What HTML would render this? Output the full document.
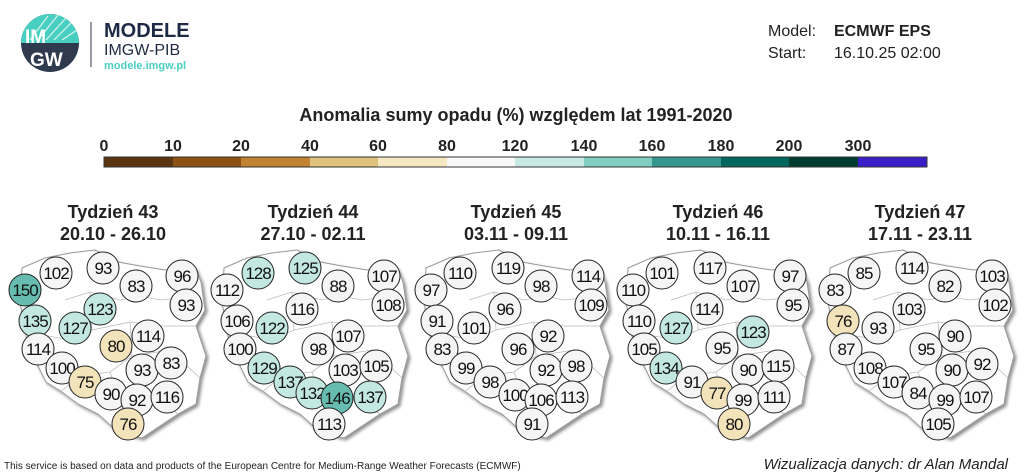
<!DOCTYPE html>
<html><head><meta charset="utf-8"><style>
body{margin:0;background:#fff;}
svg{display:block;font-family:"Liberation Sans",Arial,sans-serif;}
.c{stroke:#222;stroke-width:1}
circle.c{r:16px}
.w{fill:#f5f5f5}.t{fill:#c3e8e1}.d{fill:#66bcaf}.b{fill:#f3e3bb}
.n{font-size:17px;text-anchor:middle;fill:#111;letter-spacing:-1px}
.h{font-size:18px;font-weight:bold;text-anchor:middle;fill:#222}
</style></head><body>
<svg width="1024" height="475" viewBox="0 0 1024 475">
<defs>
<filter id="sh" x="-10%" y="-10%" width="130%" height="130%"><feDropShadow dx="2" dy="2" stdDeviation="1.5" flood-color="#000" flood-opacity="0.45"/></filter>
<path id="pl" d="M22,268 L45,258 L70,253 L95,250 L118,262 L140,266 L165,270 L195,268 L201,282 L205,310 L196,326 L206,356 L200,378 L196,404 L178,414 L160,426 L142,438 L118,432 L98,414 L78,404 L62,392 L46,382 L36,362 L26,336 L20,302 Z" fill="#fff" stroke="#999" stroke-width="1" filter="url(#sh)"/>
<g id="st">
<path d="M65,300 L90,292 L120,300 L140,296 L160,300 L198,296 M90,292 L92,330 L70,340 L48,336 M92,330 L130,322 L160,326 L196,326 M130,322 L132,356 L110,372 L80,376 L60,392 M132,356 L170,350 L200,378 M110,372 L120,400 L142,412 M120,400 L160,400 L178,414" fill="none" stroke="#bbb" stroke-width="0.8"/>
</g>
</defs>

<circle cx="50" cy="43" r="29" fill="#2f3a4f"/>
<path d="M21,43 A29,29 0 0 1 79,43 Z" fill="#49cfc1"/>
<g stroke="#fff" stroke-width="1.2" opacity="0.8"><line x1="30" y1="40" x2="48" y2="16"/><line x1="38" y1="40" x2="58" y2="15"/><line x1="46" y1="40" x2="66" y2="18"/><line x1="54" y1="40" x2="72" y2="22"/><line x1="62" y1="40" x2="77" y2="30"/></g>
<text x="25" y="43" font-size="19" font-weight="bold" fill="#fff">IM</text>
<text x="30" y="66" font-size="19" font-weight="bold" fill="#fff">GW</text>
<line x1="91" y1="22" x2="91" y2="67" stroke="#2f3a4f" stroke-width="1"/>
<text x="104" y="37" font-size="20" font-weight="bold" fill="#1e2a45">MODELE</text>
<text x="104" y="55" font-size="16" fill="#1e2a45">IMGW-PIB</text>
<text x="104" y="69" font-size="11" font-weight="bold" fill="#49cfc1">modele.imgw.pl</text>

<text x="768" y="36" font-size="16" fill="#222">Model:</text>
<text x="834" y="36" font-size="16" font-weight="bold" fill="#222">ECMWF EPS</text>
<text x="768" y="58" font-size="16" fill="#222">Start:</text>
<text x="834" y="58" font-size="16" fill="#222">16.10.25 02:00</text>

<text x="516" y="121" class="h">Anomalia sumy opadu (%) względem lat 1991-2020</text>
<g font-size="16" font-weight="bold" text-anchor="middle" fill="#222">
<text x="104" y="151">0</text><text x="173" y="151">10</text><text x="241" y="151">20</text><text x="310" y="151">40</text><text x="378" y="151">60</text><text x="447" y="151">80</text><text x="515" y="151">120</text><text x="584" y="151">140</text><text x="652" y="151">160</text><text x="721" y="151">180</text><text x="789" y="151">200</text><text x="858" y="151">300</text>
</g>
<g stroke="none">
<rect x="104" y="157" width="69" height="10" fill="#5a3510"/><rect x="173" y="157" width="68" height="10" fill="#8c5214"/><rect x="241" y="157" width="69" height="10" fill="#c1832f"/><rect x="310" y="157" width="68" height="10" fill="#dfc27d"/><rect x="378" y="157" width="69" height="10" fill="#f6e8c3"/><rect x="447" y="157" width="68" height="10" fill="#f8f8f8"/><rect x="515" y="157" width="69" height="10" fill="#c7eae5"/><rect x="584" y="157" width="68" height="10" fill="#80cdc1"/><rect x="652" y="157" width="69" height="10" fill="#35978f"/><rect x="721" y="157" width="68" height="10" fill="#01665e"/><rect x="789" y="157" width="69" height="10" fill="#003c30"/><rect x="858" y="157" width="69" height="10" fill="#3a1fc8"/>
</g>
<rect x="104" y="157" width="823" height="10" fill="none" stroke="#333" stroke-width="1"/>

<g class="h">
<text x="113" y="218">Tydzień 43</text><text x="113" y="240">20.10 - 26.10</text>
<text x="313" y="218">Tydzień 44</text><text x="313" y="240">27.10 - 02.11</text>
<text x="516" y="218">Tydzień 45</text><text x="516" y="240">03.11 - 09.11</text>
<text x="718" y="218">Tydzień 46</text><text x="718" y="240">10.11 - 16.11</text>
<text x="920" y="218">Tydzień 47</text><text x="920" y="240">17.11 - 23.11</text>
</g>

<g transform="translate(0,0)"><use href="#pl"/><use href="#st"/>
<circle class="c w" cx="56" cy="273" r="16"/><text class="n" x="56" y="279">102</text>
<circle class="c w" cx="103" cy="268" r="16"/><text class="n" x="103" y="274">93</text>
<circle class="c w" cx="136" cy="286" r="16"/><text class="n" x="136" y="292">83</text>
<circle class="c w" cx="182" cy="276" r="16"/><text class="n" x="182" y="282">96</text>
<circle class="c d" cx="25" cy="290" r="16"/><text class="n" x="25" y="296">150</text>
<circle class="c w" cx="186" cy="305" r="16"/><text class="n" x="186" y="311">93</text>
<circle class="c t" cx="100" cy="309" r="16"/><text class="n" x="100" y="315">123</text>
<circle class="c t" cx="35" cy="321" r="16"/><text class="n" x="35" y="327">135</text>
<circle class="c t" cx="75" cy="328" r="16"/><text class="n" x="75" y="334">127</text>
<circle class="c w" cx="148" cy="336" r="16"/><text class="n" x="148" y="342">114</text>
<circle class="c w" cx="38" cy="349" r="16"/><text class="n" x="38" y="355">114</text>
<circle class="c b" cx="116" cy="346" r="16"/><text class="n" x="116" y="352">80</text>
<circle class="c w" cx="62" cy="368" r="16"/><text class="n" x="62" y="374">100</text>
<circle class="c w" cx="142" cy="370" r="16"/><text class="n" x="142" y="376">93</text>
<circle class="c w" cx="171" cy="363" r="16"/><text class="n" x="171" y="369">83</text>
<circle class="c b" cx="85" cy="382" r="16"/><text class="n" x="85" y="388">75</text>
<circle class="c w" cx="111" cy="394" r="16"/><text class="n" x="111" y="400">90</text>
<circle class="c w" cx="137" cy="400" r="16"/><text class="n" x="137" y="406">92</text>
<circle class="c w" cx="167" cy="397" r="16"/><text class="n" x="167" y="403">116</text>
<circle class="c b" cx="128" cy="424" r="16"/><text class="n" x="128" y="430">76</text>
</g>

<g transform="translate(202,0)"><use href="#pl"/><use href="#st"/>
<circle class="c t" cx="56" cy="273" r="16"/><text class="n" x="56" y="279">128</text>
<circle class="c t" cx="103" cy="268" r="16"/><text class="n" x="103" y="274">125</text>
<circle class="c w" cx="136" cy="286" r="16"/><text class="n" x="136" y="292">88</text>
<circle class="c w" cx="182" cy="276" r="16"/><text class="n" x="182" y="282">107</text>
<circle class="c w" cx="25" cy="290" r="16"/><text class="n" x="25" y="296">112</text>
<circle class="c w" cx="186" cy="305" r="16"/><text class="n" x="186" y="311">108</text>
<circle class="c w" cx="100" cy="309" r="16"/><text class="n" x="100" y="315">116</text>
<circle class="c w" cx="35" cy="321" r="16"/><text class="n" x="35" y="327">106</text>
<circle class="c t" cx="70" cy="328" r="16"/><text class="n" x="70" y="334">122</text>
<circle class="c w" cx="146" cy="336" r="16"/><text class="n" x="146" y="342">107</text>
<circle class="c w" cx="38" cy="349" r="16"/><text class="n" x="38" y="355">100</text>
<circle class="c w" cx="116" cy="349" r="16"/><text class="n" x="116" y="355">98</text>
<circle class="c t" cx="62" cy="368" r="16"/><text class="n" x="62" y="374">129</text>
<circle class="c w" cx="143" cy="370" r="16"/><text class="n" x="143" y="376">103</text>
<circle class="c w" cx="174" cy="366" r="16"/><text class="n" x="174" y="372">105</text>
<circle class="c t" cx="88" cy="382" r="16"/><text class="n" x="88" y="388">137</text>
<circle class="c t" cx="110" cy="393" r="16"/><text class="n" x="110" y="399">132</text>
<circle class="c d" cx="135" cy="398" r="16"/><text class="n" x="135" y="404">146</text>
<circle class="c t" cx="168" cy="397" r="16"/><text class="n" x="168" y="403">137</text>
<circle class="c w" cx="127" cy="424" r="16"/><text class="n" x="127" y="430">113</text>
</g>

<g transform="translate(404,0)"><use href="#pl"/><use href="#st"/>
<circle class="c w" cx="56" cy="273" r="16"/><text class="n" x="56" y="279">110</text>
<circle class="c w" cx="104" cy="268" r="16"/><text class="n" x="104" y="274">119</text>
<circle class="c w" cx="137" cy="286" r="16"/><text class="n" x="137" y="292">98</text>
<circle class="c w" cx="184" cy="276" r="16"/><text class="n" x="184" y="282">114</text>
<circle class="c w" cx="27" cy="290" r="16"/><text class="n" x="27" y="296">97</text>
<circle class="c w" cx="187" cy="305" r="16"/><text class="n" x="187" y="311">109</text>
<circle class="c w" cx="101" cy="309" r="16"/><text class="n" x="101" y="315">96</text>
<circle class="c w" cx="33" cy="321" r="16"/><text class="n" x="33" y="327">91</text>
<circle class="c w" cx="70" cy="328" r="16"/><text class="n" x="70" y="334">101</text>
<circle class="c w" cx="144" cy="336" r="16"/><text class="n" x="144" y="342">92</text>
<circle class="c w" cx="38" cy="349" r="16"/><text class="n" x="38" y="355">83</text>
<circle class="c w" cx="114" cy="349" r="16"/><text class="n" x="114" y="355">96</text>
<circle class="c w" cx="62" cy="368" r="16"/><text class="n" x="62" y="374">99</text>
<circle class="c w" cx="142" cy="370" r="16"/><text class="n" x="142" y="376">92</text>
<circle class="c w" cx="172" cy="366" r="16"/><text class="n" x="172" y="372">98</text>
<circle class="c w" cx="86" cy="382" r="16"/><text class="n" x="86" y="388">98</text>
<circle class="c w" cx="111" cy="395" r="16"/><text class="n" x="111" y="401">100</text>
<circle class="c w" cx="137" cy="400" r="16"/><text class="n" x="137" y="406">106</text>
<circle class="c w" cx="168" cy="397" r="16"/><text class="n" x="168" y="403">113</text>
<circle class="c w" cx="128" cy="424" r="16"/><text class="n" x="128" y="430">91</text>
</g>

<g transform="translate(606,0)"><use href="#pl"/><use href="#st"/>
<circle class="c w" cx="56" cy="273" r="16"/><text class="n" x="56" y="279">101</text>
<circle class="c w" cx="104" cy="268" r="16"/><text class="n" x="104" y="274">117</text>
<circle class="c w" cx="137" cy="286" r="16"/><text class="n" x="137" y="292">107</text>
<circle class="c w" cx="184" cy="276" r="16"/><text class="n" x="184" y="282">97</text>
<circle class="c w" cx="27" cy="290" r="16"/><text class="n" x="27" y="296">110</text>
<circle class="c w" cx="187" cy="305" r="16"/><text class="n" x="187" y="311">95</text>
<circle class="c w" cx="101" cy="309" r="16"/><text class="n" x="101" y="315">114</text>
<circle class="c w" cx="33" cy="321" r="16"/><text class="n" x="33" y="327">110</text>
<circle class="c t" cx="70" cy="328" r="16"/><text class="n" x="70" y="334">127</text>
<circle class="c t" cx="147" cy="332" r="16"/><text class="n" x="147" y="338">123</text>
<circle class="c w" cx="38" cy="349" r="16"/><text class="n" x="38" y="355">105</text>
<circle class="c w" cx="116" cy="348" r="16"/><text class="n" x="116" y="354">95</text>
<circle class="c t" cx="60" cy="368" r="16"/><text class="n" x="60" y="374">134</text>
<circle class="c w" cx="142" cy="370" r="16"/><text class="n" x="142" y="376">90</text>
<circle class="c w" cx="172" cy="366" r="16"/><text class="n" x="172" y="372">115</text>
<circle class="c w" cx="86" cy="382" r="16"/><text class="n" x="86" y="388">91</text>
<circle class="c b" cx="111" cy="393" r="16"/><text class="n" x="111" y="399">77</text>
<circle class="c w" cx="137" cy="400" r="16"/><text class="n" x="137" y="406">99</text>
<circle class="c w" cx="168" cy="397" r="16"/><text class="n" x="168" y="403">111</text>
<circle class="c b" cx="128" cy="424" r="16"/><text class="n" x="128" y="430">80</text>
</g>

<g transform="translate(808,0)"><use href="#pl"/><use href="#st"/>
<circle class="c w" cx="56" cy="273" r="16"/><text class="n" x="56" y="279">85</text>
<circle class="c w" cx="104" cy="268" r="16"/><text class="n" x="104" y="274">114</text>
<circle class="c w" cx="137" cy="286" r="16"/><text class="n" x="137" y="292">82</text>
<circle class="c w" cx="184" cy="276" r="16"/><text class="n" x="184" y="282">103</text>
<circle class="c w" cx="27" cy="290" r="16"/><text class="n" x="27" y="296">83</text>
<circle class="c w" cx="187" cy="305" r="16"/><text class="n" x="187" y="311">102</text>
<circle class="c w" cx="101" cy="309" r="16"/><text class="n" x="101" y="315">103</text>
<circle class="c b" cx="35" cy="321" r="16"/><text class="n" x="35" y="327">76</text>
<circle class="c w" cx="70" cy="328" r="16"/><text class="n" x="70" y="334">93</text>
<circle class="c w" cx="147" cy="336" r="16"/><text class="n" x="147" y="342">90</text>
<circle class="c w" cx="38" cy="349" r="16"/><text class="n" x="38" y="355">87</text>
<circle class="c w" cx="118" cy="349" r="16"/><text class="n" x="118" y="355">95</text>
<circle class="c w" cx="62" cy="368" r="16"/><text class="n" x="62" y="374">108</text>
<circle class="c w" cx="144" cy="370" r="16"/><text class="n" x="144" y="376">90</text>
<circle class="c w" cx="174" cy="364" r="16"/><text class="n" x="174" y="370">92</text>
<circle class="c w" cx="86" cy="382" r="16"/><text class="n" x="86" y="388">107</text>
<circle class="c w" cx="110" cy="393" r="16"/><text class="n" x="110" y="399">84</text>
<circle class="c w" cx="137" cy="400" r="16"/><text class="n" x="137" y="406">99</text>
<circle class="c w" cx="168" cy="397" r="16"/><text class="n" x="168" y="403">107</text>
<circle class="c w" cx="130" cy="424" r="16"/><text class="n" x="130" y="430">105</text>
</g>

<text x="4" y="469" font-size="10" fill="#222">This service is based on data and products of the European Centre for Medium-Range Weather Forecasts (ECMWF)</text>
<text x="1008" y="469" font-size="15" font-style="italic" fill="#222" text-anchor="end">Wizualizacja danych: dr Alan Mandal</text>
</svg>
</body></html>
